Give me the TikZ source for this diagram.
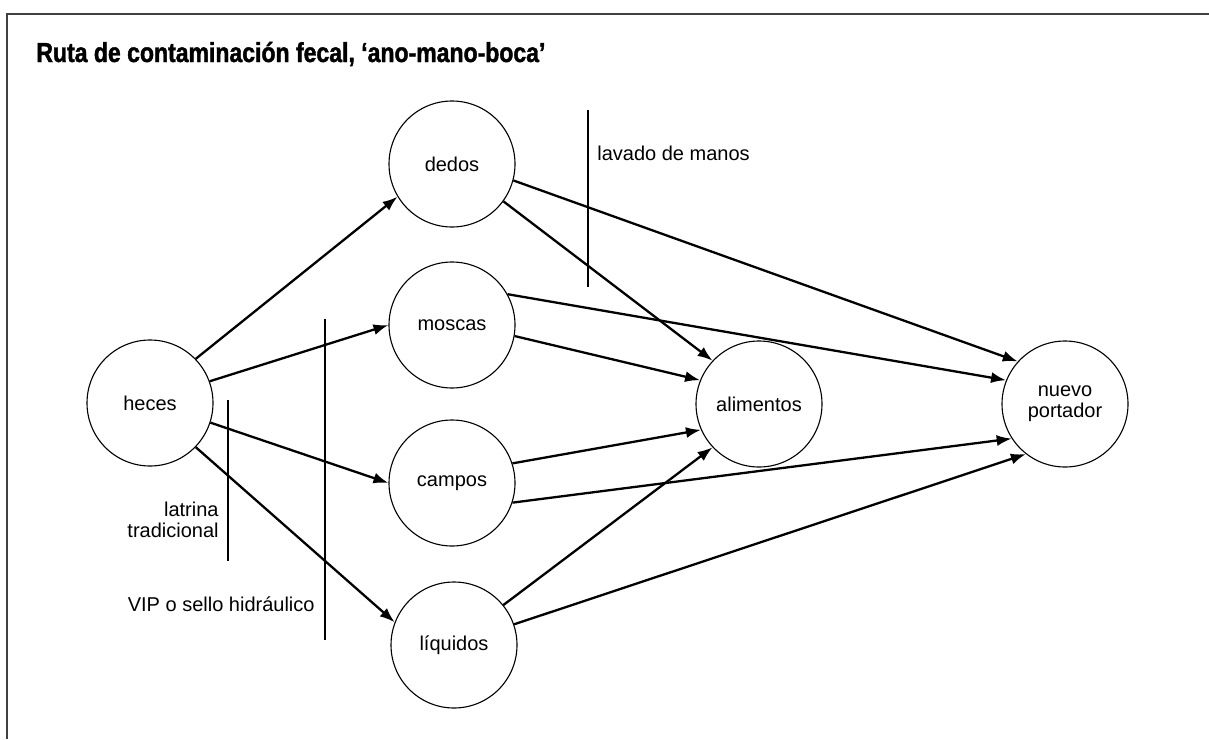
\documentclass[tikz,border=0pt]{standalone}
\usepackage{fontspec}
\setmainfont{Liberation Sans}
\newfontfamily\titlefont[FakeStretch=0.84,FakeBold=1.5]{Liberation Sans}
\usetikzlibrary{arrows.meta}

\begin{document}
\begin{tikzpicture}[x=0.5pt, y=-0.5pt, >={Latex[length=7.5pt,width=5.5pt]},
    spot/.style={circle, draw, line width=0.55pt, minimum size=63pt, inner sep=0pt, align=center, font=\fontsize{10}{10.5}\selectfont},
    route/.style={->, line width=1.15pt},
    barrier/.style={line width=0.7pt},
    note/.style={inner sep=0pt, align=right, font=\fontsize{10}{10.5}\selectfont}]
    \useasboundingbox (0,0) rectangle (1209,739);
    % frame and title
    \draw[line width=1pt, black!75] (7,739) -- (7,14) -- (1209,14);
    \node[anchor=base west, inner sep=0pt, font=\titlefont\bfseries\fontsize{13.7}{15}\selectfont] (titulo) at (36,62) {Ruta de contaminación fecal, ‘ano-mano-boca’};
    % circles
    \node[spot] (heces) at (150,403) {heces};
    \node[spot] (dedos) at (452,164) {dedos};
    \node[spot] (moscas) at (452,325) {moscas};
    \node[spot] (campos) at (452,483) {campos};
    \node[spot] (liquidos) at (454,645) {líquidos};
    \node[spot] (alimentos) at (759,404) {alimentos};
    \node[spot] (portador) at (1065,404) {nuevo\\portador};
    % routes
    \draw[route] (heces.44) -- (dedos.211);
    \draw[route] (heces.20) -- (moscas.180);
    \draw[route] (heces.-18) -- (campos.180);
    \draw[route] (heces.-44) -- (liquidos.159);
    \draw[route] (dedos.-36) -- (alimentos.137);
    \draw[route] (dedos.-15) -- (portador.138);
    \draw[route] (moscas.29) -- (portador.158);
    \draw[route] (moscas.-10) -- (alimentos.158);
    \draw[route] (campos.18) -- (alimentos.204);
    \draw[route] (campos.-18) -- (portador.213);
    \draw[route] (liquidos.39) -- (alimentos.223);
    \draw[route] (liquidos.19) -- (portador.232);
    % barriers
    \draw[barrier] (588,110) -- (588,287);
    \draw[barrier] (228,400) -- (228,561);
    \draw[barrier] (325,319) -- (325,640);
    \node[note, anchor=west] (lavado) at (597,153) {lavado de manos};
    \node[note, anchor=east] (latrina) at (219,520) {latrina\\tradicional};
    \node[note, anchor=east] (vip) at (315,604) {VIP o sello hidráulico};
\end{tikzpicture}
\end{document}
